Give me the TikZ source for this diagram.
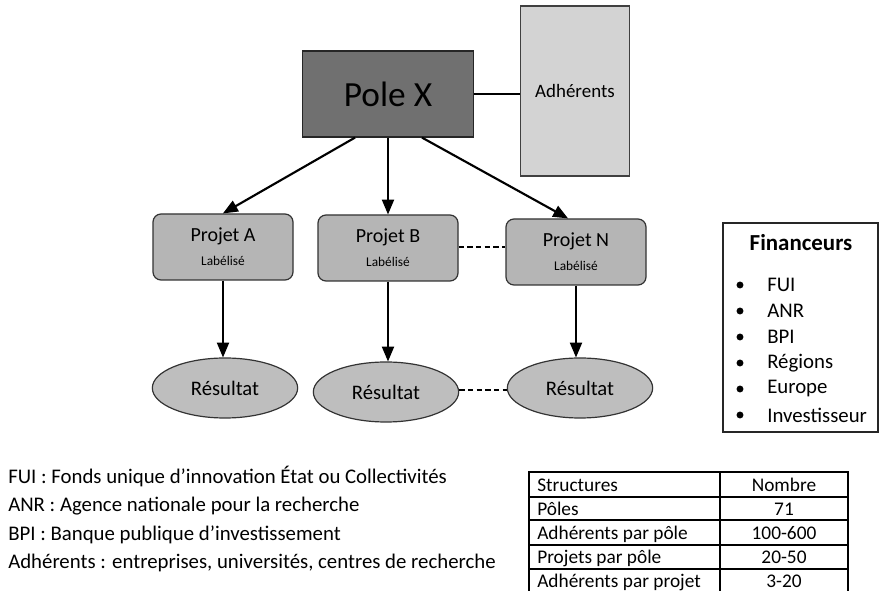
\documentclass[tikz,border=0pt]{standalone}
\usepackage{fontspec}
\setmainfont{Carlito}
\usetikzlibrary{arrows,shapes,positioning,calc}
\definecolor{poledark}{RGB}{112,112,112}
\definecolor{projgray}{RGB}{181,181,181}
\definecolor{resgray}{RGB}{190,190,190}
\definecolor{adhgray}{RGB}{211,211,211}

\begin{document}
\begin{tikzpicture}[x=0.75pt, y=-0.75pt,
    pole/.style={rectangle, draw=black!85, fill=poledark, line width=0.9pt,
                 minimum width=128pt, minimum height=64.5pt, font=\fontsize{26.5}{30}\selectfont},
    adh/.style={rectangle, draw=black!75, fill=adhgray, line width=0.9pt,
                minimum width=82pt, minimum height=127.5pt, font=\fontsize{14.2}{16}\selectfont},
    projet/.style={rectangle, draw=black!80, fill=projgray, line width=0.9pt, rounded corners=6pt,
                   minimum width=105pt, minimum height=49.5pt, align=center, font=\fontsize{15}{17}\selectfont},
    resultat/.style={ellipse, draw=black!80, fill=resgray, line width=0.9pt,
                     minimum width=109pt, minimum height=45pt, font=\fontsize{15.5}{17}\selectfont},
    link/.style={->, >=triangle 45, line width=1.6pt},
    dashlink/.style={line width=1.6pt, dash pattern=on 4pt off 2.5pt},
    txt/.style={anchor=base west, inner sep=0pt, font=\fontsize{15.6}{19}\selectfont},
    cell/.style={inner sep=0pt, font=\fontsize{14.5}{17}\selectfont}
  ]
    \useasboundingbox (0,0) rectangle (879,591);
    \clip (0,0) rectangle (879,591);
    \fill[white] (0,0) rectangle (879,591);

    \node[pole] (pole) at (388, 94) {Pole X};
    \node[adh] (adh) at (575, 91) {Adhérents};

    \node[projet] (projA) at (223, 247) {Projet A\\[1pt]{\fontsize{10}{11}\selectfont Labélisé}};
    \node[projet] (projB) at (388, 248) {Projet B\\[1pt]{\fontsize{10}{11}\selectfont Labélisé}};
    \node[projet] (projN) at (576, 252) {Projet N\\[1pt]{\fontsize{10}{11}\selectfont Labélisé}};

    \node[resultat] (resA) at (225, 388) {Résultat};
    \node[resultat] (resB) at (386, 392) {Résultat};
    \node[resultat] (resN) at (580, 388) {Résultat};

    \draw[line width=1.6pt] (pole.east) -- (pole.east -| adh.west);
    \draw[link] ($(pole.south)+(-33,0)$) -- (projA.north);
    \draw[link] (pole.south -| projB.north) -- (projB.north);
    \draw[link] ($(pole.south)+(34,0)$) -- ($(projN.north)+(-8,0)$);
    \draw[link] (projA.south) -- (projA.south |- resA.north);
    \draw[link] (projB.south) -- (projB.south |- resB.north);
    \draw[link] (projN.south) -- (projN.south |- resN.north);
    \draw[dashlink] ($(projB.east)+(0,-1)$) -- ($(projB.east -| projN.west)+(0,-1)$);
    \draw[dashlink] ($(resB.east)+(0,-2)$) -- ($(resB.east -| resN.west)+(0,-2)$);

    % financeurs
    \node[rectangle, draw=black!85, line width=0.9pt, minimum width=116.25pt, minimum height=156.75pt]
      (fin) at (800.5, 327.5) {};
    \node[font=\fontsize{17.2}{19}\selectfont\bfseries] (fintitle) at (801, 243) {Financeurs};
    \foreach \item [count=\i] in {FUI, ANR, BPI, Régions, Europe, Investisseur} {
      \fill (740, 259+26*\i) circle (2.6pt);
      \node[anchor=west, inner sep=0pt, font=\fontsize{15.6}{18}\selectfont] (fin\i) at (767, 259+26*\i) {\item};
    }

    % definitions
    \node[txt] (defFUI) at (8, 484) {FUI : Fonds unique d’innovation État ou Collectivités};
    \node[txt] (defANR) at (8, 512) {ANR : Agence nationale pour la recherche};
    \node[txt] (defBPI) at (8, 541) {BPI : Banque publique d’investissement};
    \node[txt] (defADH) at (8, 569) {Adhérents : entreprises, universités, centres de recherche};

    % table
    \draw[line width=0.8pt] (529, 600) -- (529, 472) -- (848, 472) -- (848, 600);
    \draw[line width=0.8pt] (720, 472) -- (720, 600);
    \foreach \y in {497, 520, 545, 569}
      \draw[line width=0.8pt] (529, \y) -- (848, \y);
    \foreach \name/\val [count=\i] in {Structures/Nombre, Pôles/71, Adhérents par pôle/100-600,
                                      Projets par pôle/20-50, Adhérents par projet/3-20} {
      \node[cell, anchor=base west] (row\i) at (537, 468+24*\i) {\name};
      \node[cell, anchor=base] (val\i) at (784, 468+24*\i) {\val};
    }
  \end{tikzpicture}
\end{document}
